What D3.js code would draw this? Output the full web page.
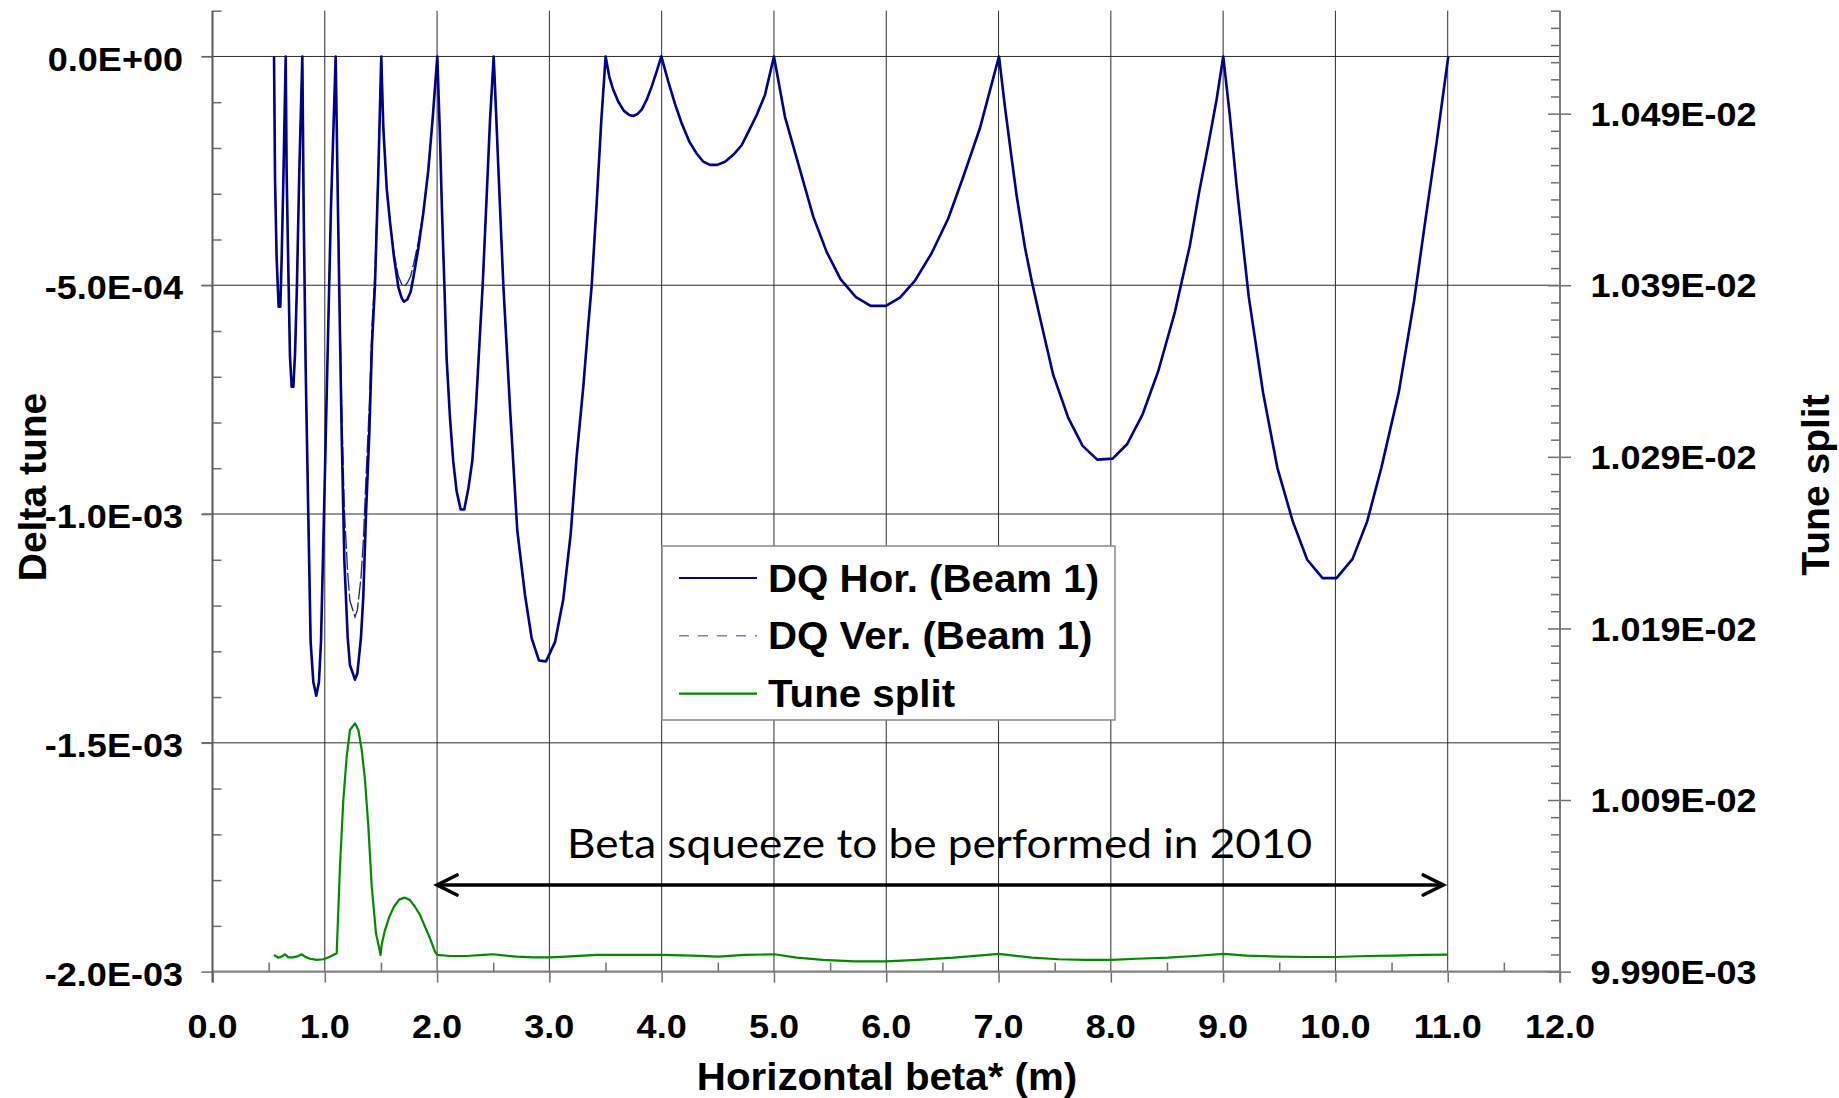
<!DOCTYPE html>
<html>
<head>
<meta charset="utf-8">
<script src="https://cdn.jsdelivr.net/npm/d3@7"></script>
<style>
  body { margin: 0; background: #fff; }
  svg { display: block; }
</style>
</head>
<body>
<div id="vis"></div>
<script>
// ---- data: [beta* (m), value] ----
const dqHor = [
  [0.548,0],[0.557,-2.7e-4],[0.571,-4.4e-4],[0.589,-5.47e-4],[0.604,-5.47e-4],[0.616,-4.4e-4],[0.631,-2.7e-4],[0.652,0],
  [0.66,-2.5e-4],[0.675,-4.6e-4],[0.69,-6.56e-4],[0.705,-7.22e-4],[0.72,-7.22e-4],[0.735,-6.5e-4],[0.752,-5.0e-4],[0.773,-2.5e-4],[0.8,0],
  [0.812,-3.4e-4],[0.83,-6.84e-4],[0.853,-1.0e-3],[0.874,-1.28e-3],[0.898,-1.367e-3],[0.924,-1.397e-3],[0.948,-1.367e-3],[0.966,-1.28e-3],[0.993,-1.0e-3],[1.022,-6.84e-4],[1.055,-3.3e-4],[1.097,0],
  [1.112,-2.5e-4],[1.13,-5.3e-4],[1.15,-8.2e-4],[1.174,-1.1e-3],[1.204,-1.27e-3],[1.224,-1.33e-3],[1.269,-1.362e-3],[1.29,-1.348e-3],[1.322,-1.27e-3],[1.343,-1.18e-3],[1.367,-1.0e-3],[1.397,-8.2e-4],[1.42,-6.3e-4],[1.447,-5.0e-4],[1.477,-2.5e-4],[1.503,0],
  [1.521,-1.54e-4],[1.551,-2.87e-4],[1.581,-3.62e-4],[1.616,-4.38e-4],[1.655,-5.04e-4],[1.685,-5.28e-4],[1.705,-5.36e-4],[1.735,-5.31e-4],[1.765,-5.14e-4],[1.794,-4.76e-4],[1.833,-4.19e-4],[1.877,-3.43e-4],[1.922,-2.48e-4],[1.961,-1.35e-4],[2.002,0],
  [2.025,-1.7e-4],[2.044,-3.4e-4],[2.065,-5.0e-4],[2.085,-6.6e-4],[2.115,-7.9e-4],[2.144,-8.85e-4],[2.174,-9.5e-4],[2.21,-9.9e-4],[2.242,-9.9e-4],[2.278,-9.45e-4],[2.314,-8.83e-4],[2.346,-7.67e-4],[2.376,-6.33e-4],[2.406,-5.0e-4],[2.442,-3.03e-4],[2.471,-1.42e-4],[2.504,0],
  [2.525,-1.2e-4],[2.545,-2.4e-4],[2.59,-5.0e-4],[2.65,-7.7e-4],[2.714,-1.035e-3],[2.783,-1.177e-3],[2.842,-1.271e-3],[2.907,-1.32e-3],[2.97,-1.322e-3],[3.05,-1.28e-3],[3.124,-1.186e-3],[3.19,-1.043e-3],[3.243,-8.74e-4],[3.302,-7.22e-4],[3.346,-5.88e-4],[3.377,-5.0e-4],[3.421,-3.21e-4],[3.462,-1.42e-4],[3.501,0],
  [3.533,-4.4e-5],[3.569,-7.3e-5],[3.614,-9.9e-5],[3.664,-1.19e-4],[3.712,-1.28e-4],[3.747,-1.3e-4],[3.783,-1.26e-4],[3.822,-1.16e-4],[3.866,-9.5e-5],[3.911,-6.6e-5],[3.955,-3.3e-5],[3.997,0],
  [4.059,-5.5e-5],[4.118,-1.03e-4],[4.178,-1.46e-4],[4.246,-1.86e-4],[4.311,-2.12e-4],[4.371,-2.3e-4],[4.43,-2.37e-4],[4.495,-2.37e-4],[4.564,-2.3e-4],[4.638,-2.15e-4],[4.712,-1.94e-4],[4.78,-1.61e-4],[4.846,-1.28e-4],[4.92,-8.4e-5],[5.0,0],
  [5.098,-1.32e-4],[5.232,-2.48e-4],[5.35,-3.5e-4],[5.469,-4.27e-4],[5.594,-4.87e-4],[5.73,-5.26e-4],[5.861,-5.45e-4],[5.997,-5.45e-4],[6.122,-5.27e-4],[6.256,-4.9e-4],[6.404,-4.3e-4],[6.552,-3.54e-4],[6.686,-2.63e-4],[6.834,-1.57e-4],[7.004,0],
  [7.057,-1.1e-4],[7.117,-2.23e-4],[7.161,-3.04e-4],[7.235,-4.17e-4],[7.295,-4.9e-4],[7.369,-5.71e-4],[7.487,-6.96e-4],[7.621,-7.9e-4],[7.749,-8.51e-4],[7.879,-8.81e-4],[8.016,-8.79e-4],[8.146,-8.47e-4],[8.283,-7.82e-4],[8.422,-6.88e-4],[8.571,-5.58e-4],[8.704,-4.13e-4],[8.787,-2.96e-4],[8.867,-1.94e-4],[8.942,-9.4e-5],[9.001,0],
  [9.06,-1.3e-4],[9.12,-2.83e-4],[9.228,-5.25e-4],[9.356,-7.35e-4],[9.483,-8.99e-4],[9.62,-1.016e-3],[9.749,-1.1e-3],[9.886,-1.14e-3],[10.01,-1.14e-3],[10.153,-1.098e-3],[10.283,-1.016e-3],[10.41,-8.98e-4],[10.565,-7.33e-4],[10.7,-5.35e-4],[10.8,-3.6e-4],[10.9,-1.9e-4],[11.005,0],
];

// vertical DQ: same as horizontal except the dips near 1.27 m and 1.7 m
const dqVer = [
  [0.548,0],[0.557,-2.7e-4],[0.571,-4.4e-4],[0.589,-5.47e-4],[0.604,-5.47e-4],[0.616,-4.4e-4],[0.631,-2.7e-4],[0.652,0],
  [0.66,-2.5e-4],[0.675,-4.6e-4],[0.69,-6.56e-4],[0.705,-7.22e-4],[0.72,-7.22e-4],[0.735,-6.5e-4],[0.752,-5.0e-4],[0.773,-2.5e-4],[0.8,0],
  [0.812,-3.4e-4],[0.83,-6.84e-4],[0.853,-1.0e-3],[0.874,-1.28e-3],[0.898,-1.367e-3],[0.924,-1.397e-3],[0.948,-1.367e-3],[0.966,-1.28e-3],[0.993,-1.0e-3],[1.022,-6.84e-4],[1.055,-3.3e-4],[1.097,0],
  [1.112,-2.4e-4],[1.13,-5.0e-4],[1.15,-7.6e-4],[1.174,-9.9e-4],[1.204,-1.13e-3],[1.224,-1.19e-3],[1.269,-1.225e-3],[1.29,-1.21e-3],[1.322,-1.14e-3],[1.343,-1.06e-3],[1.367,-9.2e-4],[1.397,-7.6e-4],[1.42,-5.9e-4],[1.447,-4.7e-4],[1.477,-2.4e-4],[1.503,0],
  [1.521,-1.54e-4],[1.551,-2.87e-4],[1.581,-3.6e-4],[1.616,-4.3e-4],[1.655,-4.8e-4],[1.685,-4.98e-4],[1.705,-5.03e-4],[1.735,-4.95e-4],[1.765,-4.8e-4],[1.794,-4.5e-4],[1.833,-4.05e-4],[1.877,-3.4e-4],[1.922,-2.48e-4],[1.961,-1.35e-4],[2.002,0],
  [2.025,-1.7e-4],[2.044,-3.4e-4],[2.065,-5.0e-4],[2.085,-6.6e-4],[2.115,-7.9e-4],[2.144,-8.85e-4],[2.174,-9.5e-4],[2.21,-9.9e-4],[2.242,-9.9e-4],[2.278,-9.45e-4],[2.314,-8.83e-4],[2.346,-7.67e-4],[2.376,-6.33e-4],[2.406,-5.0e-4],[2.442,-3.03e-4],[2.471,-1.42e-4],[2.504,0],
  [2.525,-1.2e-4],[2.545,-2.4e-4],[2.59,-5.0e-4],[2.65,-7.7e-4],[2.714,-1.035e-3],[2.783,-1.177e-3],[2.842,-1.271e-3],[2.907,-1.32e-3],[2.97,-1.322e-3],[3.05,-1.28e-3],[3.124,-1.186e-3],[3.19,-1.043e-3],[3.243,-8.74e-4],[3.302,-7.22e-4],[3.346,-5.88e-4],[3.377,-5.0e-4],[3.421,-3.21e-4],[3.462,-1.42e-4],[3.501,0],
  [3.533,-4.4e-5],[3.569,-7.3e-5],[3.614,-9.9e-5],[3.664,-1.19e-4],[3.712,-1.28e-4],[3.747,-1.3e-4],[3.783,-1.26e-4],[3.822,-1.16e-4],[3.866,-9.5e-5],[3.911,-6.6e-5],[3.955,-3.3e-5],[3.997,0],
  [4.059,-5.5e-5],[4.118,-1.03e-4],[4.178,-1.46e-4],[4.246,-1.86e-4],[4.311,-2.12e-4],[4.371,-2.3e-4],[4.43,-2.37e-4],[4.495,-2.37e-4],[4.564,-2.3e-4],[4.638,-2.15e-4],[4.712,-1.94e-4],[4.78,-1.61e-4],[4.846,-1.28e-4],[4.92,-8.4e-5],[5.0,0],
  [5.098,-1.32e-4],[5.232,-2.48e-4],[5.35,-3.5e-4],[5.469,-4.27e-4],[5.594,-4.87e-4],[5.73,-5.26e-4],[5.861,-5.45e-4],[5.997,-5.45e-4],[6.122,-5.27e-4],[6.256,-4.9e-4],[6.404,-4.3e-4],[6.552,-3.54e-4],[6.686,-2.63e-4],[6.834,-1.57e-4],[7.004,0],
  [7.057,-1.1e-4],[7.117,-2.23e-4],[7.161,-3.04e-4],[7.235,-4.17e-4],[7.295,-4.9e-4],[7.369,-5.71e-4],[7.487,-6.96e-4],[7.621,-7.9e-4],[7.749,-8.51e-4],[7.879,-8.81e-4],[8.016,-8.79e-4],[8.146,-8.47e-4],[8.283,-7.82e-4],[8.422,-6.88e-4],[8.571,-5.58e-4],[8.704,-4.13e-4],[8.787,-2.96e-4],[8.867,-1.94e-4],[8.942,-9.4e-5],[9.001,0],
  [9.06,-1.3e-4],[9.12,-2.83e-4],[9.228,-5.25e-4],[9.356,-7.35e-4],[9.483,-8.99e-4],[9.62,-1.016e-3],[9.749,-1.1e-3],[9.886,-1.14e-3],[10.01,-1.14e-3],[10.153,-1.098e-3],[10.283,-1.016e-3],[10.41,-8.98e-4],[10.565,-7.33e-4],[10.7,-5.35e-4],[10.8,-3.6e-4],[10.9,-1.9e-4],[11.005,0],
];

// tune split, right axis
const tuneSplit = [
  [0.548,0.0099997],[0.586,0.0099981],[0.616,0.0099987],[0.646,0.0100001],[0.675,0.0099983],[0.714,0.0099983],[0.75,0.0099987],[0.794,0.0100001],
  [0.824,0.0099987],[0.868,0.0099975],[0.928,0.0099968],[0.987,0.0099972],[1.046,0.0099987],[1.106,0.0100007],
  [1.135,0.0100511],[1.165,0.01009],[1.195,0.0101152],[1.224,0.0101308],[1.269,0.0101347],[1.299,0.0101308],[1.329,0.0101191],
  [1.358,0.0101017],[1.388,0.0100745],[1.418,0.0100395],[1.456,0.0100123],[1.497,0.0099997],
  [1.506,0.0100055],[1.536,0.0100142],[1.575,0.010022],[1.616,0.0100278],[1.664,0.0100321],[1.714,0.0100331],[1.759,0.0100317],
  [1.803,0.0100278],[1.848,0.010023],[1.892,0.0100162],[1.937,0.0100094],[1.981,0.0100016],[2.002,0.0099997],
  [2.115,0.0099991],[2.263,0.0099991],[2.411,0.0099997],[2.5,0.0100001],[2.589,0.0099995],[2.709,0.0099987],[2.857,0.0099983],
  [3.005,0.0099983],[3.154,0.0099987],[3.302,0.0099993],[3.421,0.0099997],[3.599,0.0099997],[3.807,0.0099997],[3.997,0.0099997],
  [4.272,0.0099993],[4.506,0.0099987],[4.738,0.0099997],[5.003,0.0100001],[5.204,0.0099981],[5.436,0.0099968],[5.716,0.009996],
  [6.0,0.009996],[6.275,0.0099968],[6.601,0.0099981],[7.002,0.0100003],[7.3,0.0099981],[7.533,0.0099972],[7.766,0.0099968],
  [8.003,0.0099968],[8.231,0.0099975],[8.51,0.0099981],[8.743,0.0099991],[9.004,0.0100003],[9.209,0.0099993],[9.489,0.0099987],
  [9.768,0.0099985],[10.0,0.0099985],[10.28,0.0099991],[10.513,0.0099993],[10.793,0.0099997],[11.003,0.0099999],
];

const xTicks = [0, 1, 2, 3, 4, 5, 6, 7, 8, 9, 10, 11, 12];
const leftTicks = [0, -5e-4, -1e-3, -1.5e-3, -2e-3];
const rightTicks = [0.00999, 0.01009, 0.01019, 0.01029, 0.01039, 0.01049];
const seriesNames = ["DQ Hor. (Beam 1)", "DQ Ver. (Beam 1)", "Tune split"];
const note = "Beta squeeze to be performed in 2010";
const noteRange = [2.0, 10.96];

// ---- layout ----
const W = 1839, H = 1098;
const margin = { top: 10.7, right: 279, bottom: 126.4, left: 212.5 };
const width = W - margin.left - margin.right;
const height = H - margin.top - margin.bottom;
const font = "'Liberation Sans', Arial, sans-serif";
const sx = 1.06; // text in the picture is a little wide

const root = d3.select("#vis").append("svg").attr("width", W).attr("height", H);
const svg = root.append("g").attr("transform", `translate(${margin.left},${margin.top})`);

const x = d3.scaleLinear().domain([0, 12]).range([0, width]);
const yL = d3.scaleLinear().domain([-0.002, 0.0001]).range([height, 0]);
const yR = d3.scaleLinear().domain([0.00999, 0.01055]).range([height, 0]);

// "0.0E+00" style, with a plain hyphen for the minus sign
const expFmt = (p) => (v) =>
  d3.format(`.${p}e`)(v)
    .replace(/\u2212/g, "-")
    .replace("e", "E")
    .replace(/([+-])(\d)$/, "$10$2");

function label(sel, tx, ty, txt, size, anchor) {
  return sel
    .append("text")
    .attr("transform", `translate(${tx},${ty}) scale(${sx},1)`)
    .attr("text-anchor", anchor)
    .style("font-family", font)
    .style("font-weight", "bold")
    .style("font-size", size + "px")
    .text(txt);
}

// gridlines
svg.selectAll(".vgrid")
  .data(xTicks.filter((d) => d > 0 && d < 12))
  .join("line")
  .attr("x1", (d) => x(d)).attr("x2", (d) => x(d))
  .attr("y1", 0).attr("y2", height)
  .attr("stroke", "#2c2c2c").attr("stroke-width", 1);

svg.selectAll(".hgrid")
  .data(leftTicks.filter((d) => d > -2e-3))
  .join("line")
  .attr("x1", -11).attr("x2", width)
  .attr("y1", (d) => yL(d)).attr("y2", (d) => yL(d))
  .attr("stroke", "#2c2c2c").attr("stroke-width", 1);

// axes (major ticks outward, minor ticks inward)
const axisColor = "#6e6e6e";
const styleAxis = (g) => {
  g.select(".domain").remove();
  g.selectAll("line").attr("stroke", axisColor).attr("stroke-width", 1.5);
};

svg.append("g")
  .attr("transform", `translate(0,${height})`)
  .call(d3.axisBottom(x).tickValues(xTicks).tickSize(11).tickFormat(""))
  .call(styleAxis);
svg.append("g")
  .attr("transform", `translate(0,${height})`)
  .call(d3.axisBottom(x).tickValues(d3.range(0.5, 12, 1)).tickSize(-9).tickFormat(""))
  .call(styleAxis);

svg.append("g")
  .call(d3.axisLeft(yL).tickValues(leftTicks).tickSize(11).tickFormat(""))
  .call(styleAxis);
svg.append("g")
  .call(d3.axisLeft(yL).tickValues(d3.range(-19, 2).filter((k) => k % 5 !== 0).map((k) => k * 1e-4)).tickSize(-9).tickFormat(""))
  .call(styleAxis);

svg.append("g")
  .attr("transform", `translate(${width},0)`)
  .call(d3.axisRight(yR).tickValues(rightTicks).tickSize(11).tickFormat(""))
  .call(styleAxis);
svg.append("g")
  .attr("transform", `translate(${width},0)`)
  .call(d3.axisRight(yR).tickValues(rightTicks).tickSize(-12).tickFormat(""))
  .call(styleAxis);
svg.append("g")
  .attr("transform", `translate(${width},0)`)
  .call(d3.axisRight(yR).tickValues(d3.range(1, 57).filter((k) => k % 10 !== 0).map((k) => 0.00999 + k * 1e-5)).tickSize(-9).tickFormat(""))
  .call(styleAxis);

// axis lines
svg.append("line").attr("x1", 0).attr("x2", width).attr("y1", height).attr("y2", height)
  .attr("stroke", "#808080").attr("stroke-width", 2.2);
svg.append("line").attr("x1", 0).attr("x2", 0).attr("y1", 0).attr("y2", height + 11)
  .attr("stroke", "#5a5a5a").attr("stroke-width", 2);
svg.append("line").attr("x1", width).attr("x2", width).attr("y1", 0).attr("y2", height + 11)
  .attr("stroke", "#7a7a7a").attr("stroke-width", 2);

// tick labels
xTicks.forEach((d) => label(svg, x(d), height + 66.4, d3.format(".1f")(d), 34, "middle"));
leftTicks.forEach((d) => label(svg, -29.5, yL(d) + 14.2, expFmt(1)(d), 34, "end"));
rightTicks.forEach((d) => label(svg, width + 30.4, yR(d) + 12.2, expFmt(3)(d), 34, "start"));

// axis titles
label(root, 887, 1090, "Horizontal beta* (m)", 38, "middle");
root.append("text")
  .attr("transform", "translate(45.5,487) rotate(-90)")
  .attr("text-anchor", "middle")
  .style("font-family", font).style("font-weight", "bold").style("font-size", "39px")
  .text("Delta tune");
root.append("text")
  .attr("transform", "translate(1829,485) rotate(-90)")
  .attr("text-anchor", "middle")
  .style("font-family", font).style("font-weight", "bold").style("font-size", "39px")
  .text("Tune split");

// series
const lineL = d3.line().x((d) => x(d[0])).y((d) => yL(d[1]));
const lineR = d3.line().x((d) => x(d[0])).y((d) => yR(d[1]));

svg.append("path").datum(dqVer).attr("d", lineL)
  .attr("fill", "none").attr("stroke", "#1c1c94").attr("stroke-width", 1.3)
  .attr("stroke-dasharray", "18,3");
svg.append("path").datum(dqHor).attr("d", lineL)
  .attr("fill", "none").attr("stroke", "#000088").attr("stroke-width", 2.6)
  .attr("stroke-linejoin", "round");
svg.append("path").datum(tuneSplit).attr("d", lineR)
  .attr("fill", "none").attr("stroke", "#008a00").attr("stroke-width", 2.2)
  .attr("stroke-linejoin", "round");

// legend
const legend = root.append("g");
legend.append("rect")
  .attr("x", 662).attr("y", 546).attr("width", 453).attr("height", 174)
  .attr("fill", "#fff").attr("stroke", "#8a8a8a").attr("stroke-width", 1.5);
const legendStyle = [
  { color: "#000088", width: 2.2, dash: null },
  { color: "#7b7bd2", width: 1.6, dash: "10,9" },
  { color: "#008a00", width: 2.2, dash: null },
];
seriesNames.forEach((name, i) => {
  const ly = 578 + i * 57.8;
  legend.append("line")
    .attr("x1", 679).attr("x2", 757).attr("y1", ly).attr("y2", ly)
    .attr("stroke", legendStyle[i].color).attr("stroke-width", legendStyle[i].width)
    .attr("stroke-dasharray", legendStyle[i].dash);
  label(legend, 768, ly + 13.6, name, 38, "start");
});

// annotation arrow and note
const ay = 874.3;
const ax0 = x(noteRange[0]), ax1 = x(noteRange[1]);
svg.append("line").attr("x1", ax0 + 2).attr("x2", ax1 - 2).attr("y1", ay).attr("y2", ay)
  .attr("stroke", "#000").attr("stroke-width", 3.6);
svg.append("path")
  .attr("d", `M${ax0 + 20},${ay - 10}L${ax0},${ay}L${ax0 + 20},${ay + 10}M${ax1 - 20},${ay - 10}L${ax1},${ay}L${ax1 - 20},${ay + 10}`)
  .attr("fill", "none").attr("stroke", "#000").attr("stroke-width", 3.6)
  .attr("stroke-linecap", "round");
root.append("text")
  .attr("x", 567).attr("y", 858)
  .attr("textLength", 745).attr("lengthAdjust", "spacingAndGlyphs")
  .style("font-family", "Lato, 'Open Sans', sans-serif")
  .style("font-size", "40px")
  .text(note);
</script>
</body>
</html>
